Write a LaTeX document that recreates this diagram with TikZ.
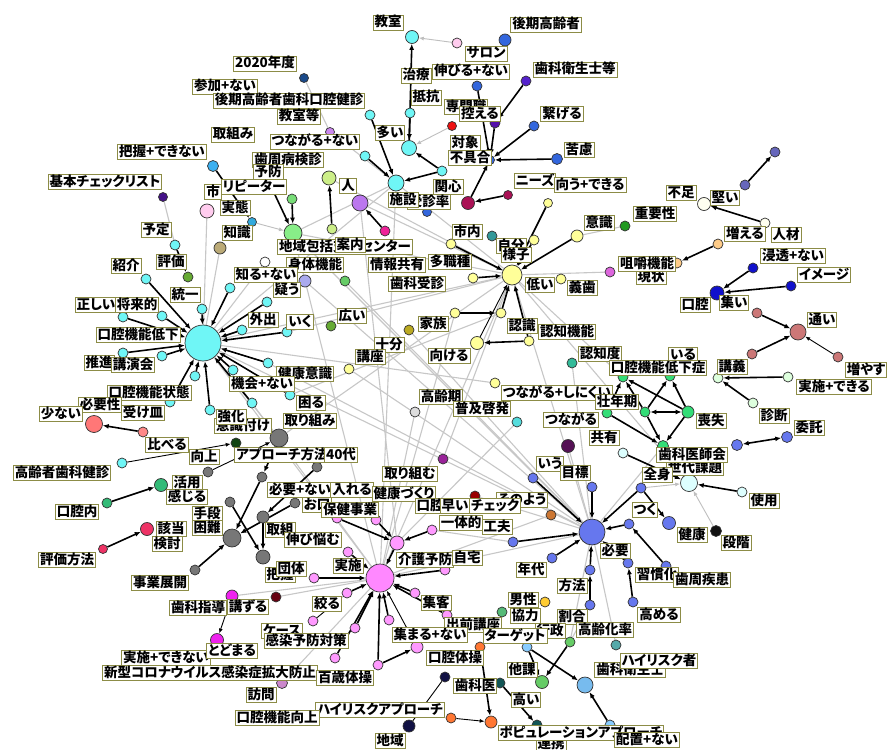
\documentclass[tikz,border=0pt]{standalone}
\usepackage{fontspec}
\setmainfont{Noto Sans CJK JP}[RawFeature=+palt]
\usetikzlibrary{arrows.meta}
\pgfdeclarelayer{bgw}\pgfdeclarelayer{bg}\pgfsetlayers{bgw,bg,main}
\def\dc#1#2{\definecolor{#1}{HTML}{#2}}
\dc{cyn}{6FF6F6}\dc{cynl}{DDFFFF}\dc{cblu}{3CB0F0}\dc{roy}{3366DD}\dc{ind}{5522CC}
\dc{dpu}{5511AA}\dc{rd}{EE1111}\dc{dkb}{1A4A8A}\dc{lav}{CC88EE}\dc{mar}{AA1155}
\dc{yel}{FFFF99}\dc{lgy}{CCEE88}\dc{pur}{BB77EE}\dc{mag}{EE2299}\dc{grn}{77DD77}
\dc{grh}{88EE88}\dc{dpl}{441188}\dc{pnk}{FFCCEE}\dc{sky}{33AADD}\dc{tan}{BBAA77}
\dc{wht}{FFFFFF}\dc{lavb}{AAAAEE}\dc{grb}{66CC66}\dc{olv}{66AA33}\dc{sal}{FF7777}
\dc{salb}{FF8888}\dc{dgr}{114411}\dc{mgr}{33BB77}\dc{crm}{EE3366}\dc{gry}{777777}
\dc{teal}{339999}\dc{oyl}{BBAA22}\dc{aqm}{33BB99}\dc{lgr}{DDDDDD}\dc{cyb}{55DDDD}
\dc{dpr}{551155}\dc{prb}{992299}\dc{slb}{6666BB}\dc{ivy}{FFFFF0}\dc{frg}{229922}
\dc{org}{FFCC88}\dc{orc}{DD66DD}\dc{dbl}{1111CC}\dc{ros}{CC7777}\dc{emg}{33DD77}
\dc{pgr}{DDFFDD}\dc{blu}{6677EE}\dc{blk}{111111}\dc{brn}{CC7733}\dc{pkb}{FF99FF}
\dc{pkh}{FF88FF}\dc{drd}{990000}\dc{mgt}{EE22EE}\dc{drr}{660011}\dc{vio}{CC88CC}
\dc{grc}{55BB77}\dc{gld}{FFCC33}\dc{orb}{FF7733}\dc{lbl}{88CCFF}\dc{nvy}{111144}
\dc{dtl}{115555}\dc{lbb}{77BBEE}\dc{tlb}{55AAAA}\dc{bord}{8C8C46}
\newcounter{lbc}
\newcommand\cn[5]{\node[cc,fill=#5,minimum size=#4pt] (#1) at (#2,#3) {};}
\newcommand\lb[3]{\stepcounter{lbc}\node[lab] (lab\arabic{lbc}) at (#1,#2) {#3};}
\begin{document}
\begin{tikzpicture}[x=1pt,y=-1pt,
  cc/.style={circle,draw=black!80,line width=0.7pt,inner sep=0pt},
  lab/.style={draw=bord,line width=0.9pt,fill=white,inner xsep=1.5pt,inner ysep=1pt,
    text height=10.5pt,text depth=2.5pt,font=\fontsize{13.5}{14}\selectfont\bfseries},
  ar/.style={line width=1.6pt,black,-{Latex[length=6pt,width=5pt]}},
  ara/.style={line width=1.6pt,black,{Latex[length=6pt,width=5pt]}-{Latex[length=6pt,width=5pt]}},
  tar/.style={line width=0.9pt,black,-{Latex[length=5pt,width=4pt]}},
  gl/.style={line width=1.1pt,black!22},
  gar/.style={line width=0.9pt,black!25,-{Latex[length=5pt,width=4pt]}}]
\path[use as bounding box] (0,0) rectangle (888,749);
\begin{pgfonlayer}{bgw}\fill[white] (0,0) rectangle (888,749);\end{pgfonlayer}
% ---------- circles ----------
\cn{t1}{412}{37}{13}{cyn}\cn{t2}{457}{43}{10}{pnk}\cn{t3}{505}{40}{12}{roy}
\cn{t4}{477}{86}{10}{roy}\cn{t5}{526}{81}{10}{ind}\cn{t6}{370}{115}{10}{cyn}
\cn{t7}{410}{113}{10}{cyn}\cn{t8}{452}{126}{9}{rd}\cn{t9}{495}{123}{10}{dpu}
\cn{t10}{534}{126}{10}{roy}\cn{t11}{409}{148}{15}{cyn}\cn{t12}{365}{156}{10}{cyn}
\cn{t13}{442}{171}{10}{cyn}\cn{t14}{396}{183}{16}{cyn}\cn{t15}{557}{159}{11}{roy}
\cn{t16}{490}{160}{9}{roy}\cn{t17}{304}{78}{9}{dkb}\cn{t18}{330}{132}{9}{lav}
\cn{t19}{427}{212}{9}{roy}\cn{t20}{468}{203}{13}{mar}\cn{t21}{508}{195}{9}{mar}
\cn{t22}{548}{203}{9}{yel}\cn{t23}{329}{178}{14}{lgy}\cn{t24}{360}{203}{16}{pur}
\cn{t25}{385}{231}{10}{mag}\cn{t26}{332}{229}{10}{lgy}\cn{t27}{292}{199}{10}{grn}
\cn{t28}{293}{233}{18}{grh}\cn{t29}{213}{166}{11}{cblu}\cn{t30}{163}{197}{9}{dpl}
\cn{t31}{207}{211}{14}{pnk}\cn{t32}{252}{222}{9}{sky}\cn{t33}{220}{248}{12}{tan}
\cn{t34}{265}{262}{10}{wht}\cn{t35}{268}{180}{9}{grn}
\cn{l0}{203}{343}{36}{cyn}
\cn{l1}{175}{245}{10}{cyn}\cn{l2}{188}{277}{10}{olv}\cn{l3}{146}{279}{10}{cyn}
\cn{l4}{202}{309}{10}{cyn}\cn{l5}{230}{288}{10}{cyn}\cn{l6}{267}{302}{10}{cyn}
\cn{l7}{123}{317}{10}{cyn}\cn{l8}{162}{316}{10}{cyn}\cn{l9}{242}{330}{10}{cyn}
\cn{l10}{287}{332}{10}{cyn}\cn{l11}{123}{353}{10}{cyn}\cn{l12}{162}{356}{10}{cyn}
\cn{l13}{268}{363}{10}{cyn}\cn{l14}{233}{370}{10}{cyn}\cn{l15}{195}{376}{10}{cyn}
\cn{l16}{170}{402}{10}{cyn}\cn{l17}{252}{403}{10}{cyn}\cn{l18}{290}{395}{10}{cyn}
\cn{l19}{210}{410}{10}{cyn}\cn{l20}{305}{281}{12}{lavb}\cn{l21}{345}{281}{10}{grb}
\cn{l22}{331}{326}{10}{olv}
\cn{m1}{94}{424}{17}{sal}\cn{m2}{143}{432}{10}{salb}\cn{m3}{122}{463}{10}{cyn}
\cn{m4}{236}{443}{10}{dgr}\cn{m5}{161}{485}{13}{mgr}\cn{m6}{107}{503}{10}{mgr}
\cn{m7}{147}{529}{13}{crm}\cn{m8}{103}{549}{9}{crm}
\cn{g1}{279}{438}{18}{gry}\cn{g2}{208}{472}{10}{gry}\cn{g3}{317}{467}{10}{gry}
\cn{g4}{262}{477}{10}{gry}\cn{g5}{230}{502}{10}{gry}\cn{g6}{263}{517}{12}{gry}
\cn{g7}{295}{503}{10}{gry}\cn{g8}{232}{538}{18}{gry}\cn{g9}{263}{557}{14}{gry}
\cn{g10}{195}{570}{10}{gry}
\cn{y0}{512}{275}{20}{yel}\cn{y1}{451}{244}{10}{yel}\cn{y2}{492}{236}{10}{teal}
\cn{y3}{534}{240}{10}{yel}\cn{y4}{577}{236}{12}{yel}\cn{y5}{473}{278}{10}{yel}
\cn{y6}{561}{279}{10}{yel}\cn{y7}{455}{313}{10}{yel}\cn{y8}{501}{313}{10}{yel}
\cn{y9}{529}{341}{10}{yel}\cn{y10}{477}{343}{13}{yel}\cn{y11}{409}{330}{10}{oyl}
\cn{y12}{349}{369}{10}{yel}\cn{y13}{572}{363}{10}{aqm}\cn{y14}{495}{383}{10}{yel}
\cn{y15}{415}{412}{10}{lgr}\cn{y16}{517}{422}{10}{cyb}\cn{y17}{568}{446}{13}{dpr}
\cn{y18}{443}{459}{10}{prb}
\cn{r1}{775}{152}{10}{slb}\cn{r2}{745}{185}{10}{slb}\cn{r3}{704}{204}{13}{ivy}
\cn{r4}{765}{223}{10}{ivy}\cn{r5}{625}{226}{10}{frg}\cn{r6}{718}{244}{10}{org}
\cn{r7}{677}{263}{10}{org}\cn{r8}{610}{272}{10}{orc}\cn{r9}{753}{268}{10}{dbl}
\cn{r10}{791}{286}{10}{dbl}\cn{r11}{717}{293}{14}{dbl}\cn{r12}{757}{313}{10}{ros}
\cn{r13}{798}{332}{16}{ros}\cn{r14}{752}{354}{10}{ros}\cn{r15}{838}{357}{10}{ros}
\cn{e1}{623}{377}{10}{emg}\cn{e2}{670}{376}{10}{emg}\cn{e3}{607}{413}{10}{emg}
\cn{e4}{645}{412}{10}{emg}\cn{e5}{688}{412}{12}{emg}\cn{e6}{663}{446}{11}{emg}
\cn{q1}{718}{378}{10}{pgr}\cn{q2}{788}{377}{10}{pgr}\cn{q3}{753}{403}{10}{pgr}
\cn{b1}{787}{437}{11}{blu}\cn{b2}{737}{445}{11}{blu}
\cn{c1}{623}{453}{10}{cynl}\cn{c0}{689}{483}{17}{cynl}\cn{c2}{742}{492}{10}{cynl}
\cn{k1}{716}{531}{11}{blk}
\cn{B0}{592}{532}{26}{blu}\cn{B1}{533}{478}{10}{blu}\cn{B2}{592}{487}{10}{blu}
\cn{B3}{641}{488}{10}{blu}\cn{B4}{629}{524}{10}{blu}\cn{B5}{669}{523}{13}{blu}
\cn{B6}{513}{542}{10}{blu}\cn{B7}{552}{558}{10}{blu}\cn{B8}{590}{570}{10}{blu}
\cn{B9}{628}{563}{10}{blu}\cn{B10}{666}{566}{10}{blu}\cn{B11}{590}{605}{10}{blu}
\cn{B12}{633}{602}{10}{blu}\cn{o1}{551}{515}{10}{brn}
\cn{P0}{380}{578}{28}{pkh}\cn{P1}{397}{543}{14}{pkb}\cn{P2}{376}{520}{10}{pkb}
\cn{P3}{432}{530}{10}{pkb}\cn{P4}{348}{552}{10}{pkb}\cn{P5}{445}{570}{10}{pkb}
\cn{P6}{314}{578}{10}{pkb}\cn{P7}{347}{593}{10}{pkb}\cn{P8}{415}{593}{10}{pkb}
\cn{P9}{313}{621}{10}{pkb}\cn{P10}{355}{628}{10}{pkb}\cn{P11}{389}{620}{10}{pkb}
\cn{P12}{447}{615}{10}{pkb}\cn{P13}{417}{647}{12}{pkb}\cn{P14}{335}{658}{10}{pkb}
\cn{P15}{378}{665}{10}{pkb}\cn{P16}{337}{518}{10}{pkb}
\cn{d1}{475}{496}{10}{drd}\cn{pm1}{232}{596}{12}{mgt}\cn{pm2}{217}{640}{13}{mgt}
\cn{d2}{276}{597}{10}{drr}\cn{v1}{282}{683}{11}{vio}
\cn{n1}{502}{612}{10}{grc}\cn{n2}{545}{602}{10}{gld}\cn{n3}{570}{642}{10}{grb}
\cn{n4}{480}{647}{10}{orb}\cn{n5}{527}{647}{10}{lbl}\cn{n6}{445}{677}{10}{nvy}
\cn{n7}{500}{683}{10}{dtl}\cn{n8}{542}{682}{13}{grb}\cn{n9}{585}{685}{16}{lbb}
\cn{n10}{451}{718}{10}{orb}\cn{n11}{491}{722}{12}{orb}\cn{n12}{409}{726}{12}{nvy}
\cn{n13}{537}{725}{10}{dtl}\cn{n14}{610}{725}{10}{lbl}\cn{n15}{616}{645}{10}{tlb}
% ---------- labels ----------
\lb{388}{23}{教室}\lb{546}{25}{後期高齢者}\lb{486}{54}{サロン}\lb{265}{64}{2020年度}
\lb{575}{70}{歯科衛生士等}\lb{416}{76}{治療}\lb{471}{72}{伸びる+ない}\lb{225}{87}{参加+ない}
\lb{426}{98}{抵抗}\lb{289}{101}{後期高齢者歯科口腔健診}\lb{466}{107}{専門職}\lb{480}{114}{控える}
\lb{562}{114}{繋げる}\lb{299}{117}{教室等}\lb{390}{133}{多い}\lb{233}{135}{取組み}
\lb{465}{143}{対象}\lb{315}{142}{つながる+ない}\lb{579}{150}{苦慮}\lb{162}{152}{把握+できない}
\lb{288}{160}{歯周病検診}\lb{470}{158}{不具合}\lb{268}{172}{予防}\lb{105}{182}{基本チェックリスト}
\lb{535}{181}{ニーズ}\lb{590}{185}{向う+できる}\lb{348}{186}{人}\lb{448}{187}{関心}
\lb{213}{192}{市}\lb{254}{187}{リピーター}\lb{681}{193}{不足}\lb{725}{198}{堅い}
\lb{429}{202}{受診率}\lb{403}{200}{施設}\lb{235}{208}{実態}\lb{655}{214}{重要性}
\lb{599}{223}{意識}\lb{156}{230}{予定}\lb{467}{232}{市内}\lb{237}{233}{知識}
\lb{745}{234}{増える}\lb{786}{235}{人材}\lb{511}{246}{自分}\lb{345}{247}{地域包括支援センター}
\lb{350}{245}{案内}\lb{516}{255}{様子}\lb{793}{256}{浸透+ない}\lb{171}{262}{評価}
\lb{397}{265}{情報共有}\lb{450}{262}{多職種}\lb{651}{277}{現状}\lb{647}{264}{咀嚼機能}
\lb{126}{266}{紹介}\lb{315}{265}{身体機能}\lb{266}{275}{知る+ない}\lb{824}{275}{イメージ}
\lb{417}{284}{歯科受診}\lb{540}{285}{低い}\lb{582}{288}{義歯}\lb{287}{290}{疑う}
\lb{185}{295}{統一}\lb{734}{303}{集い}\lb{695}{305}{口腔}\lb{96}{305}{正しい}
\lb{137}{305}{将来的}\lb{352}{316}{広い}\lb{263}{320}{外出}\lb{822}{320}{通い}
\lb{300}{322}{いく}\lb{433}{324}{家族}\lb{522}{326}{認識}\lb{567}{332}{認知機能}
\lb{138}{335}{口腔機能低下}\lb{389}{345}{十分}\lb{600}{354}{認知度}\lb{683}{355}{いる}
\lb{449}{356}{向ける}\lb{370}{357}{講座}\lb{99}{363}{推進}\lb{133}{365}{講演会}
\lb{732}{367}{講義}\lb{658}{368}{口腔機能低下症}\lb{866}{370}{増やす}\lb{305}{374}{健康意識}
\lb{262}{384}{機会+ない}\lb{834}{387}{実施+できる}\lb{149}{393}{口腔機能状態}
\lb{557}{393}{つながる+しにくい}\lb{441}{397}{高齢期}\lb{617}{402}{壮年期}\lb{311}{403}{困る}
\lb{100}{405}{必要性}\lb{482}{409}{普及啓発}\lb{143}{413}{受け皿}\lb{61}{414}{少ない}
\lb{774}{416}{診断}\lb{243}{426}{意識付け}\lb{231}{417}{強化}\lb{571}{420}{つながる}
\lb{310}{421}{取り組み}\lb{711}{421}{喪失}\lb{809}{428}{委託}\lb{604}{438}{共有}
\lb{167}{445}{比べる}\lb{282}{455}{アプローチ方法}\lb{695}{468}{世代課題}\lb{692}{455}{歯科医師会}
\lb{341}{455}{40代}\lb{204}{457}{向上}\lb{550}{464}{いう}\lb{62}{473}{高齢者歯科健診}
\lb{575}{473}{目標}\lb{410}{474}{取り組む}\lb{657}{475}{全身}\lb{187}{483}{活用}
\lb{300}{490}{必要+ない}\lb{352}{490}{入れる}\lb{404}{494}{健康づくり}\lb{187}{497}{感じる}
\lb{522}{500}{そのよう}\lb{764}{501}{使用}\lb{317}{505}{お口}\lb{430}{506}{口腔}
\lb{455}{506}{早い}\lb{495}{506}{チェック}\lb{350}{510}{保健事業}\lb{645}{510}{つく}
\lb{77}{512}{口腔内}\lb{207}{514}{手段}\lb{461}{523}{一体的}\lb{497}{527}{工夫}
\lb{207}{528}{困難}\lb{171}{529}{該当}\lb{280}{530}{取組}\lb{692}{535}{健康}
\lb{313}{540}{伸び悩む}\lb{736}{543}{段階}\lb{167}{544}{検討}\lb{615}{551}{必要}
\lb{425}{560}{介護予防}\lb{467}{558}{自宅}\lb{67}{560}{評価方法}\lb{348}{566}{実施}
\lb{531}{570}{年代}\lb{280}{575}{把握}\lb{291}{569}{団体}\lb{657}{575}{習慣化}
\lb{702}{580}{歯周疾患}\lb{160}{583}{事業展開}\lb{572}{586}{方法}\lb{523}{600}{男性}
\lb{327}{604}{絞る}\lb{436}{603}{集客}\lb{198}{608}{歯科指導}\lb{248}{607}{講ずる}
\lb{659}{615}{高める}\lb{525}{616}{協力}\lb{572}{617}{割合}\lb{473}{625}{出前講座}
\lb{605}{630}{高齢化率}\lb{550}{631}{行政}\lb{282}{631}{ケース}\lb{430}{635}{集まる+ない}
\lb{515}{636}{ターゲット}\lb{306}{641}{感染予防対策}\lb{166}{658}{実施+できない}
\lb{232}{651}{とどまる}\lb{455}{658}{口腔体操}\lb{630}{670}{歯科衛生士}\lb{659}{661}{ハイリスク者}
\lb{522}{670}{他課}\lb{210}{673}{新型コロナウイルス感染症拡大防止}\lb{345}{678}{百歳体操}
\lb{475}{686}{歯科医}\lb{261}{695}{訪問}\lb{526}{700}{高い}\lb{380}{710}{ハイリスクアプローチ}
\lb{277}{718}{口腔機能向上}\lb{551}{744}{連携}\lb{581}{733}{ポピュレーションアプローチ}\lb{647}{740}{配置+ない}
\lb{390}{741}{地域}
% ---------- edges ----------
\begin{pgfonlayer}{bg}
\foreach \a/\b in {l0/y0,l0/B0,l0/P0,l0/t14,y0/P0,y0/B0,P0/B0,t14/y0,t14/P0,t28/y0,
  t28/B0,t24/P1,y0/c0,y0/e1,y11/B0,l13/B0,l10/y0,y7/P0,B0/e6,g1/y0,l0/y14,l21/B0,
  y15/P0,t28/P0,l20/B0,y12/B0,t24/y0,l18/y8,y13/B0,y16/P1,y17/B0,l0/g1,t23/y0,
  t30/l1,t31/l0,t33/l0,t34/l0,t18/t14,t17/t18,y0/r8,y4/r5,B0/n15,P0/pm1,P0/d2,P0/v1,
  B0/n3,B11/n3,l17/P0,t14/t28,y0/y18,d1/B0,o1/P0,B6/P3}
  \draw[gl] (\a) -- (\b);
\foreach \a/\b in {t2/t1,t32/t28,B3/c0,k1/c0,t8/t11}
  \draw[gar] (\a) -- (\b);
\foreach \a/\b in {t11/t1,t7/t11,t13/t11,t13/t14,t6/t14,t12/t14,t4/t16,t10/t16,t15/t16,
  t5/t9,t9/t16,t20/t16,t21/t20,t22/y0,t27/t28,t35/t28,t29/t32,t26/t23,t25/t24,
  l1/l2,l3/l0,l4/l0,l5/l0,l6/l0,l7/l0,l8/l0,l9/l0,l10/l0,l11/l0,l12/l0,l13/l0,
  l14/l0,l15/l0,l16/l0,l17/l0,l18/l0,l19/l0,
  m2/m1,m6/m5,m8/m7,g1/g4,g4/g8,g5/g9,g7/g8,g10/g8,g6/g9,g3/g6,
  y1/y0,y5/y0,y7/y8,y8/y0,y9/y0,y9/y10,y3/y0,y4/y0,
  B1/B0,B2/B0,B3/B0,B4/B0,B6/B0,B7/B0,B8/B0,B9/B0,B3/B5,B10/B4,B11/B8,B12/B9,
  c1/c0,c2/c0,e3/e1,e4/e1,e5/e1,e5/e2,e4/e2,e3/e6,e4/e6,e5/e6,q2/q1,q3/q1,
  r2/r1,r4/r3,r6/r7,r9/r11,r10/r11,r12/r13,r14/r13,
  P2/P1,P3/P1,P1/P0,P16/P1,P4/P0,P5/P0,P6/P0,P7/P0,P8/P0,P10/P0,P11/P0,
  P14/P0,P15/P0,P15/P13,P12/P0,
  n4/n11,n7/n13,n3/n8,n5/n9,n14/n9,n5/n8}
  \draw[ar] (\a) -- (\b);
\foreach \a/\b in {y10/y0,g2/g1,m3/m4,pm1/pm2,n10/n11,P9/P7,r15/r13,P13/P0}
  \draw[tar] (\a) -- (\b);
\draw[ara] (e4) -- (e5);
\draw[ara] (b1) -- (b2);
\draw[line width=0.9pt,black] (n6) -- (n12);
\end{pgfonlayer}
\end{tikzpicture}
\end{document}
